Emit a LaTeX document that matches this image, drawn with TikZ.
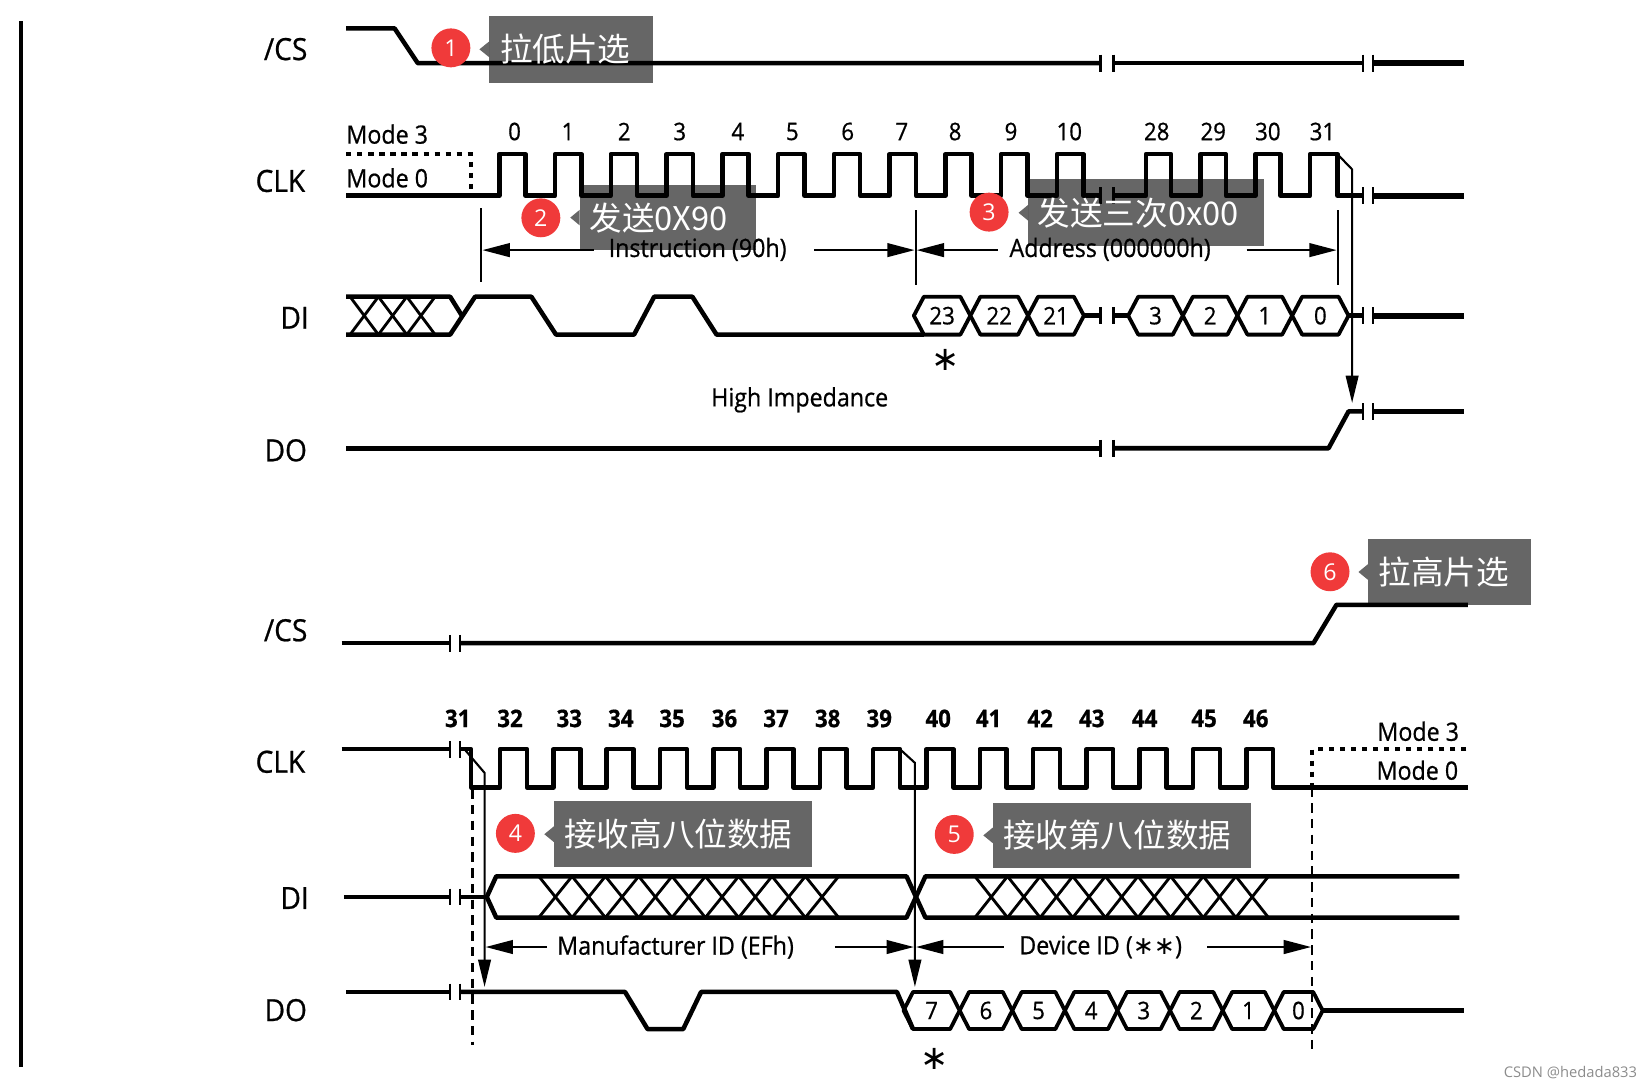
\documentclass[tikz,border=0pt]{standalone}
\usepackage{fontspec}
\setmainfont{Open Sans}[FakeStretch=0.92,FakeBold=0.7]
\newfontfamily\cjkf{Noto Sans CJK SC}
\newfontfamily\djv{DejaVu Sans}
\newfontfamily\plainf{Open Sans}
\usetikzlibrary{arrows.meta}
\definecolor{callred}{RGB}{240,58,58}
\newcommand\myfs[1]{\fontsize{#1}{#1}\selectfont}
\newcommand\tickmark[2]{\draw[brk] (#1,#2-8) -- (#1,#2+8);}
\begin{document}
\begin{tikzpicture}[x=1pt,y=-1pt,
  sig/.style={line width=4.3pt, line join=round},
  sigb/.style={line width=5.5pt},
  xl/.style={line width=2.7pt},
  hexs/.style={line width=3.6pt, line join=round},
  brk/.style={line width=2.4pt},
  dimln/.style={line width=2pt},
  dimarr/.style={line width=2pt, -{Triangle[length=26pt,width=13pt]}},
  varr/.style={line width=2pt, -{Triangle[length=26pt,width=12pt]}},
  modedot/.style={line width=3.6pt, dash pattern=on 5pt off 5.5pt},
  vdash/.style={line width=2pt, dash pattern=on 9pt off 6pt},
  sname/.style={inner sep=0pt, font=\myfs{29}},
  num/.style={inner sep=0pt, font=\myfs{23}},
  numb/.style={inner sep=0pt, font=\myfs{23}\bfseries},
  txt/.style={inner sep=0pt, font=\myfs{24}},
  hexl/.style={inner sep=0pt, font=\myfs{23}},
  astx/.style={inner sep=0pt, font=\djv\myfs{32}},
  cboxf/.style={fill=black, fill opacity=0.6},
  ctext/.style={inner sep=0pt, anchor=west, text=white, font=\cjkf\myfs{31}},
  cdot/.style={circle, fill=callred, text=white, minimum size=37pt, inner sep=0pt, font=\plainf\myfs{22}},
]
\useasboundingbox (0,0) rectangle (1570,1035);
\draw[line width=3pt] (20,20) -- (20,1014);

% signal names
\node[sname] (lcs1) at (271.5,46.7) {/CS};
\node[sname] (lclk1) at (266.5,172) {CLK};
\node[sname] (ldi1) at (280,302) {DI};
\node[sname] (ldo1) at (271.6,428) {DO};
\node[sname] (lcs2) at (271.5,599) {/CS};
\node[sname] (lclk2) at (266.5,724) {CLK};
\node[sname] (ldi2) at (280,853.5) {DI};
\node[sname] (ldo2) at (271.6,960) {DO};

% ================= TOP =================
% /CS
\draw[sig] (329,27) -- (375,27) -- (397,60) -- (1046,60);
\draw[sig] (1058,60) -- (1295.5,60);
\draw[sigb] (1305,60) -- (1391,60);
\tickmark{1046}{60}\tickmark{1058}{60}\tickmark{1295.5}{60}\tickmark{1305}{60}

% CLK
\draw[modedot] (329,146.5) -- (447.7,146.5) -- (447.7,184);
\node[txt] (m3a) at (368,127.5) {Mode 3};
\node[txt] (m0a) at (368,169) {Mode 0};
\draw[sig] (329,186) \foreach \k in {0,...,10} { -- ({474.5+53*\k},186) -- ({474.5+53*\k},146.5) -- ({499.5+53*\k},146.5) -- ({499.5+53*\k},186) } -- (1046,186);
\draw[sig] (1058,186) \foreach \j in {0,1,2} { -- ({1089+52*\j},186) -- ({1089+52*\j},146.5) -- ({1113+52*\j},146.5) -- ({1113+52*\j},186) } -- (1245,186) -- (1245,146.5) -- (1271,146.5) -- (1271,186) -- (1295.5,186);
\draw[sigb] (1305,186) -- (1391,186);
\tickmark{1046}{186}\tickmark{1058}{186}\tickmark{1295.5}{186}\tickmark{1305}{186}
\coordinate (tarrS) at (1271,146.5);
\coordinate (tarrE) at (1285,383);
\draw[varr] (tarrS) -- (1285,161) -- (tarrE);
\foreach \x/\t in {489/0, 539.8/1, 593.3/2, 646/3, 701.2/4, 753/5, 805.6/6, 857/7, 907.7/8, 960.8/9, 1016.2/10, 1099.3/28, 1153/29, 1204.9/30, 1256.8/31}
  \node[num] (tn\t) at (\x,125) {\t};

% dimension lines (top)
\draw[dimln] (457.5,198) -- (457.5,268);
\draw[dimln] (870.2,199.6) -- (870.2,271);
\draw[dimln] (1271.3,199.6) -- (1271.3,271);
\node[txt] (instr) at (663,237) {Instruction (90h)};
\node[txt] (addr) at (1055,237) {Address (000000h)};
\coordinate (iLt) at (564.5,237.7); \coordinate (iL) at (458.5,237.7);
\coordinate (iRt) at (773.9,237.7); \coordinate (iR) at (869.2,237.7);
\coordinate (aLt) at (948.1,237.7); \coordinate (aL) at (871.2,237.7);
\coordinate (aRt) at (1184.7,237.7); \coordinate (aR) at (1270.3,237.7);
\draw[dimarr] (iLt) -- (iL);
\draw[dimarr] (iRt) -- (iR);
\draw[dimarr] (aLt) -- (aL);
\draw[dimarr] (aRt) -- (aR);

% DI
\draw[sig] (329,282) -- (427.8,282) -- (439,300);
\draw[sig] (329,318) -- (427.8,318) -- (451.5,282) -- (505,282) -- (528.4,318) -- (602.6,318) -- (621.7,282) -- (658,282) -- (681,318) -- (878,318);
\foreach \a/\b in {332.7/359.6, 359.6/386.6, 386.6/413.5} {
  \draw[xl] (\a,282) -- (\b,318);
  \draw[xl] (\a,318) -- (\b,282);
}
\foreach \a/\b/\t in {868.5/922.2/23, 922.2/977/22, 977/1030.1/21, 1072.2/1124.1/3, 1124.1/1176/2, 1176/1228/1, 1228/1281.6/0} {
  \draw[hexs] (\a,300) -- (\a+9.5,282) -- (\b-9.5,282) -- (\b,300) -- (\b-9.5,318) -- (\a+9.5,318) -- cycle;
  \node[hexl] (tdi\t) at ({(\a+\b)/2},300) {\t};
}
\draw[sig] (1030.1,300) -- (1046,300);
\draw[sig] (1058,300) -- (1072.2,300);
\draw[sig] (1281.6,300) -- (1295.5,300);
\draw[sigb] (1305,300) -- (1391,300);
\tickmark{1046}{300}\tickmark{1058}{300}\tickmark{1295.5}{300}\tickmark{1305}{300}
\node[astx] (ast1) at (899,342) {∗};

% DO
\draw[sig] (329,426) -- (1046,426);
\draw[sig] (1058,426) -- (1262.6,426) -- (1281.6,391) -- (1295.5,391);
\draw[sigb] (1305,391) -- (1391,391);
\tickmark{1046}{426}\tickmark{1058}{426}\tickmark{1295.5}{391}\tickmark{1305}{391}
\node[txt] (hiz) at (760,380) {High Impedance};

% ================= BOTTOM =================
% /CS
\draw[sig] (324.7,611.3) -- (427.8,611.3);
\draw[sig] (437.1,611.3) -- (1248.2,611.3) -- (1270.1,574.8) -- (1395,574.8);
\tickmark{427.8}{611.3}\tickmark{437.1}{611.3}

% CLK
\draw[sig] (324.7,712) -- (427.8,712);
\tickmark{427.8}{712}\tickmark{437.1}{712}
\draw[sig] (437.1,712) -- (447.7,712) -- (447.7,748.3) \foreach \i in {0,...,14} { -- ({475.3+50.65*\i},748.3) -- ({475.3+50.65*\i},712) -- ({500.8+50.65*\i},712) -- ({500.8+50.65*\i},748.3) } -- (1395,748.3);
\coordinate (b31S) at (441.4,712); \coordinate (b31E) at (460.5,938);
\coordinate (b39S) at (855.3,712); \coordinate (b39E) at (869.5,938);
\draw[varr] (b31S) -- (460.5,734.5) -- (b31E);
\draw[varr] (b39S) -- (869.5,725) -- (b39E);
\draw[modedot] (1393.6,712) -- (1247,712) -- (1247,748.3);
\draw[vdash] (1247,748.3) -- (1247,996.7);
\draw[vdash] (449,750) -- (449,993);
\node[txt] (m3b) at (1347.8,695) {Mode 3};
\node[txt] (m0b) at (1347,732) {Mode 0};
\foreach \x/\t in {435/31, 484.7/32, 541/33, 590/34, 638.7/35, 688.5/36, 737.5/37, 786.6/38, 835.6/39, 891.6/40, 939.5/41, 988.5/42, 1037.6/43, 1087.8/44, 1144.3/45, 1193.4/46}
  \node[numb] (bn\t) at (\x,682.8) {\t};

% DI
\draw[sig] (326.8,852.4) -- (427.8,852.4);
\tickmark{427.8}{852.4}\tickmark{437.1}{852.4}
\draw[sig] (437.1,852.4) -- (462.6,852.4);
\draw[sig] (462.6,852.4) -- (471.6,832.8) -- (861.5,832.8) -- (870.5,852.4) -- (861.5,872) -- (471.6,872) -- cycle;
\draw[sig] (1387,832.8) -- (879.5,832.8) -- (870.5,852.4) -- (879.5,872) -- (1387,872);
\foreach \i in {0,...,8} {
  \draw[xl] ({512+31.67*\i},832.8) -- ({512+31.67*(\i+1)},872);
  \draw[xl] ({512+31.67*\i},872) -- ({512+31.67*(\i+1)},832.8);
  \draw[xl] ({926.5+31*\i},832.8) -- ({926.5+31*(\i+1)},872);
  \draw[xl] ({926.5+31*\i},872) -- ({926.5+31*(\i+1)},832.8);
}

% dimension lines (bottom)
\node[txt] (mfr) at (642,900) {Manufacturer ID (EFh)};
\node[txt] (dev) at (1046,900) {Device ID ({\djv\myfs{24}∗∗})};
\coordinate (mLt) at (519.9,900); \coordinate (mL) at (461.5,900);
\coordinate (mRt) at (793.5,900); \coordinate (mR) at (868.5,900);
\coordinate (dLt) at (953.9,900); \coordinate (dL) at (870.5,900);
\coordinate (dRt) at (1147.2,900); \coordinate (dR) at (1246,900);
\draw[dimarr] (mLt) -- (mL);
\draw[dimarr] (mRt) -- (mR);
\draw[dimarr] (dLt) -- (dL);
\draw[dimarr] (dRt) -- (dR);

% DO
\draw[sig] (329,942.7) -- (427.8,942.7);
\tickmark{427.8}{942.7}\tickmark{437.1}{942.7}
\draw[sig] (437.1,942.7) -- (594,942.7) -- (615.4,978) -- (649.3,978) -- (666.3,942.7) -- (852.4,942.7) -- (867.7,978);
\foreach \a/\b/\t in {858.7/912/7, 912/962/6, 962/1012/5, 1012/1062/4, 1062/1112/3, 1112/1162/2, 1162/1211/1, 1211/1257/0} {
  \draw[hexs] (\a,960.35) -- (\a+9,942.7) -- (\b-9,942.7) -- (\b,960.35) -- (\b-9,978) -- (\a+9,978) -- cycle;
  \node[hexl] (bdo\t) at ({(\a+\b)/2},960.35) {\t};
}
\draw[sig] (1257,960.35) -- (1391,960.35);
\node[astx] (ast2) at (888,1006) {∗};

% ================= CALLOUTS =================
\fill[cboxf] (464.8,15.2) rectangle (620.5,78.6);
\fill[cboxf] (455.6,46.9) -- (464.8,39.5) -- (464.8,54.3) -- cycle;
\node[ctext] (ct1) at (475,46.9) {拉低片选};
\node[cdot] (cd1) at (428.5,45.5) {1};

\fill[cboxf] (550.9,175.9) rectangle (718.5,237.7);
\fill[cboxf] (542,206.8) -- (550.9,199.4) -- (550.9,214.2) -- cycle;
\node[ctext] (ct2) at (560,206.8) {发送0X90};
\node[cdot] (cd2) at (514,207) {2};

\fill[cboxf] (977,170.5) rectangle (1200.9,233.9);
\fill[cboxf] (968,202.2) -- (977,194.8) -- (977,209.6) -- cycle;
\node[ctext] (ct3) at (986,202.2) {发送三次0x00};
\node[cdot] (cd3) at (940,201.6) {3};

\fill[cboxf] (526.3,761.4) rectangle (772,824.2);
\fill[cboxf] (517.3,792.8) -- (526.3,785.4) -- (526.3,800.2) -- cycle;
\node[ctext] (ct4) at (536,792.8) {接收高八位数据};
\node[cdot] (cd4) at (489.8,792) {4};

\fill[cboxf] (943.5,762.8) rectangle (1189.3,824.9);
\fill[cboxf] (934.5,793.9) -- (943.5,786.5) -- (943.5,801.3) -- cycle;
\node[ctext] (ct5) at (953,793.9) {接收第八位数据};
\node[cdot] (cd5) at (906.9,793) {5};

\fill[cboxf] (1300,512) rectangle (1454.7,575.1);
\fill[cboxf] (1291,543.6) -- (1300,536.2) -- (1300,551) -- cycle;
\node[ctext] (ct6) at (1310,543.6) {拉高片选};
\node[cdot] (cd6) at (1264,543.4) {6};

\node[inner sep=0pt, anchor=east, text=black!45, font=\plainf\myfs{14}] (wm) at (1556,1019) {CSDN @hedada833};
\end{tikzpicture}
\end{document}
